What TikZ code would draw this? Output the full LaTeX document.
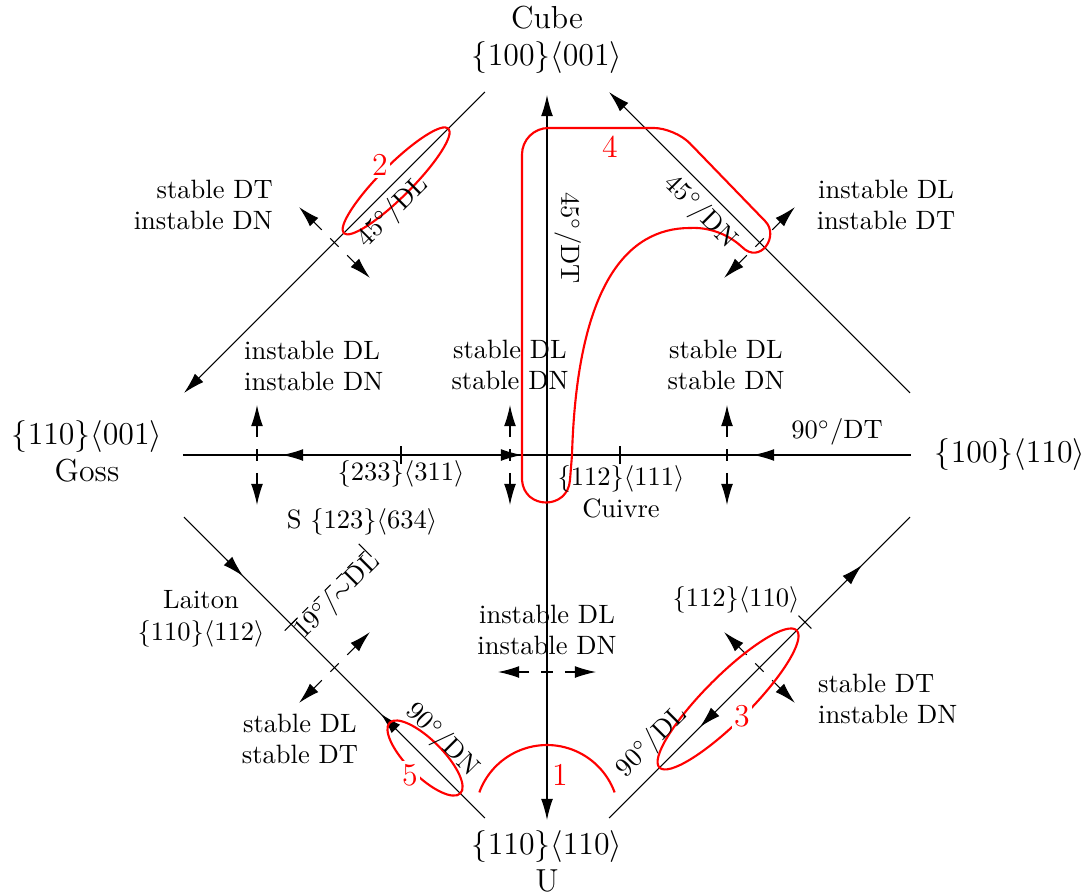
\documentclass[tikz,border=0pt]{standalone}
\usepackage{amsmath,amssymb}
\usetikzlibrary{arrows.meta,calc}

\tikzset{
  dflux/.style={->,dash pattern=on 4.5pt off 4.5pt,dash phase=2.25pt},
  lbl/.style={align=center,inner sep=1pt},
  ori/.style={font=\large,align=center,inner sep=1pt},
  zone/.style={red,thick},
  num/.style={red,font=\large,fill=white,inner sep=1pt},
}

\begin{document}
\begin{tikzpicture}[x=0.1325mm,y=0.1325mm,>={Latex[length=8pt,width=4.5pt]}]
\useasboundingbox (-547,-437) rectangle (540,455);
% corner orientations of the section
\coordinate (C) at (0,425);
\coordinate (G) at (-425,0);
\coordinate (R) at (425,0);
\coordinate (U) at (0,-425);
\coordinate (t233) at (-146,0);
\coordinate (t112) at (73,0);
\coordinate (L) at ($(G)!.398!(U)$);
\coordinate (K) at ($(U)!.607!(R)$);
\coordinate (S) at ($(L)+(74,74)$);
% fibres
\draw[<->] (0,-365) -- (0,360);
\draw (-364,0) -- (364,0);
\draw[->] ($(C)!.146!(G)$) -- ($(G)!.146!(C)$);
\draw[<-] ($(C)!.146!(R)$) -- ($(R)!.146!(C)$);
\draw ($(G)!.146!(U)$) -- ($(U)!.146!(G)$);
\draw ($(U)!.146!(R)$) -- ($(R)!.146!(U)$);
% rotation sense along the fibres
\draw[->] (-244,0) -- (-265,0);
\draw[->] (-47,0) -- (-25,0);
\draw[->] (228,0) -- (206,0);
\draw[->] ($(G)!.247!(U)$) -- ($(G)!.285!(U)$);
\draw[->] ($(G)!.645!(U)$) -- ($(G)!.609!(U)$);
\draw[->] ($(U)!.706!(R)$) -- ($(U)!.741!(R)$);
\draw[->] ($(U)!.395!(R)$) -- ($(U)!.360!(R)$);
% ticks
\draw (t233) ++(0,-9) -- ++(0,18);
\draw (t112) ++(0,-9) -- ++(0,18);
\draw ($(L)+(-6.4,-6.4)$) -- ($(L)+(6.4,6.4)$);
\draw ($(K)+(-6.4,6.4)$) -- ($(K)+(6.4,-6.4)$);
\draw ($(S)+(-6.4,6.4)$) -- ($(S)+(6.4,-6.4)$);
\draw[dashed] (L) -- (S) node[midway,sloped,below=-3.5pt] {$19^\circ/{\sim}$DL};
% stability of the fibres
\foreach \x in {-290,-37,180} {
  \draw[dflux] (\x,0) -- ++(0,50);
  \draw[dflux] (\x,0) -- ++(0,-50);
}
\draw[dflux] (0,-217) -- ++(49,0);
\draw[dflux] (0,-217) -- ++(-49,0);
\foreach \a/\b/\s in {C/G/-1,C/R/1,G/U/1,U/R/-1} {
  \draw[dflux] ($(\a)!.5!(\b)$) -- ++({35.4},{35.4*\s});
  \draw[dflux] ($(\a)!.5!(\b)$) -- ++({-35.4},{-35.4*\s});
}
% zones 1 to 5
\coordinate (E2) at ($(C)!.355!(G)$);
\coordinate (E3) at ($(U)!.426!(R)$);
\coordinate (E5) at ($(G)!.713!(U)$);
\draw[zone] (-67.7,-337.4) arc[start angle=160,end angle=20,radius=72];
\draw[zone,rotate around={45:(E2)}] (E2) ellipse[x radius=74,y radius=16];
\draw[zone,rotate around={45:(E3)}] (E3) ellipse[x radius=97,y radius=23];
\draw[zone,rotate around={-45:(E5)}] (E5) ellipse[x radius=50,y radius=18];
\draw[zone] (218,234) .. controls (233,219) and (213,190) .. (195,208)
  .. controls (180,222) and (160,228) .. (143,227)
  .. controls (80,227) and (30,170) .. (25,0) -- (23,-25)
  .. controls (21,-55) and (-23,-55) .. (-25,-25)
  [rounded corners=10pt] -- (-25,327) [rounded corners=8pt] -- (128,327)
  [sharp corners] -- (218,234);
\node[num] (n1) at (13,-320) {1};
\node[num] (n2) at (-167,290) {2};
\node[num] (n3) at (195,-261) {3};
\node[num] (n4) at (63,308) {4};
\node[num] (n5) at (-137,-320) {5};
% orientations
\node[ori] (cube) at (0,415) {Cube\\$\{100\}\langle 001\rangle$};
\node[ori] (goss) at (-460,4) {$\{110\}\langle 001\rangle$\\Goss};
\node[ori] (rcube) at (463,0) {$\{100\}\langle 110\rangle$};
\node[ori] (uu) at (0,-406) {$\{110\}\langle 110\rangle$\\U};
\node (i233) at (-146,-19) {$\{233\}\langle 311\rangle$};
\node[align=center] (cuivre) at (74,-37) {$\{112\}\langle 111\rangle$\\Cuivre};
\node (ss) at (-185,-67) {S $\{123\}\langle 634\rangle$};
\node[align=center] (laiton) at (-346,-164) {Laiton\\$\{110\}\langle 112\rangle$};
\node (i112) at (189,-145) {$\{112\}\langle 110\rangle$};
% fibre names
\node at (290,23) {$90^\circ$/DT};
\node[rotate=45] at (-154,243) {$45^\circ$/DL};
\node[rotate=-90] at (21,217) {$45^\circ$/DT};
\node[rotate=-45] at (153,243) {$45^\circ$/DN};
\node[rotate=-45] at (-105,-285) {$90^\circ$/DN};
\node[rotate=45] at (105,-287) {$90^\circ$/DL};
% stability
\node[lbl,anchor=east,align=right] at (-271,250) {stable DT\\instable DN};
\node[lbl] at (339,250) {instable DL\\instable DT};
\node[lbl,anchor=west,align=left] at (-306,89) {instable DL\\instable DN};
\node[lbl] at (-37,90) {stable DL\\stable DN};
\node[lbl] at (179,90) {stable DL\\stable DN};
\node[lbl] at (0,-175) {instable DL\\instable DN};
\node[lbl,anchor=west,align=left] at (268,-244) {stable DT\\instable DN};
\node[lbl] at (-247,-284) {stable DL\\stable DT};
\end{tikzpicture}
\end{document}
